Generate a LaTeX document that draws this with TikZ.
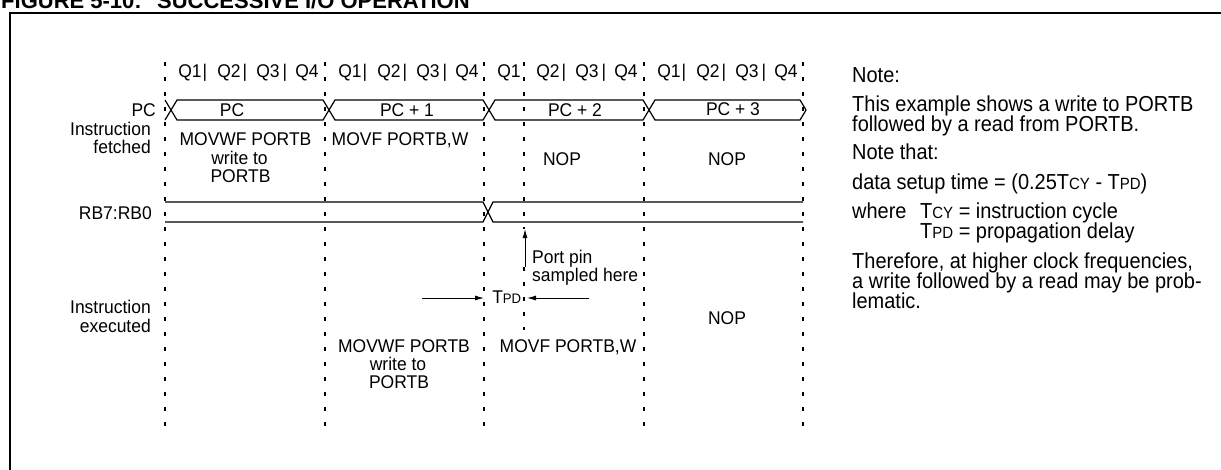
\documentclass[tikz,border=0pt]{standalone}
\usepackage{fontspec}
\usepackage{graphicx}
\setmainfont{Liberation Sans}
\newfontfamily\dfam[FakeStretch=0.95]{Liberation Sans}
\newfontfamily\nfam[FakeStretch=0.92]{Liberation Sans}
\usetikzlibrary{arrows.meta}
\newcommand{\dfont}{\dfam\fontsize{18.4}{19}\selectfont}
\newcommand{\nfont}{\nfam\fontsize{21.7}{22}\selectfont}
\newcommand{\tfont}{\fontsize{22}{23}\selectfont\bfseries}
\newcommand{\Tcy}{T\scalebox{0.75}{CY}}
\newcommand{\Tpd}{T\scalebox{0.75}{PD}}
\tikzset{
  dline/.style={line width=1.2pt, dash pattern=on 4pt off 11pt},
  bus/.style={line width=1.2pt},
  dtxt/.style={font=\dfont, inner sep=0pt, anchor=base},
  ltxt/.style={font=\dfont, inner sep=0pt, anchor=base east},
  ntxt/.style={font=\nfont, inner sep=0pt, anchor=base west},
  arr/.style={-{Latex[length=9pt,width=5pt]}, line width=1pt}
}
\begin{document}
\begin{tikzpicture}[x=1pt,y=-1pt]
\useasboundingbox (0,0) rectangle (1221,469);
% title and frame
\node[font=\tfont, inner sep=0pt, anchor=base west] (title) at (1,8) {FIGURE 5-10:\hspace{0.7em}SUCCESSIVE I/O OPERATION};
\draw[line width=2.5pt] (10,13) rectangle (1240,490);
% dashed cycle lines
\foreach \x in {165,325,484,644,803}{
  \draw[dline] (\x,62) -- (\x,427);
}
\draw[dline] (524,62) -- (524,229);
\draw[dline] (524,267) -- (524,330);
% Q labels
\foreach \b [count=\i] in {165,325,484,644}{
  \foreach \k in {1,2,3,4}{
    \node[dtxt] (q\i\k) at ({\b+25+39*(\k-1)},77) {Q\k};
  }
}
\foreach \x [count=\j] in {205,245,285,365,405,445,564,604,684,724,764}{
  \node[dtxt] (bar\j) at (\x,77) {|};
}
% PC bus
\draw[bus, line join=miter] (165,100) -- (177,120) -- (323,120) -- (335,100) -- (483,100) -- (495,120) -- (643,120) -- (655,100) -- (800,100) -- (806,110);
\draw[bus, line join=miter] (165,120) -- (177,100) -- (323,100) -- (335,120) -- (483,120) -- (495,100) -- (643,100) -- (655,120) -- (800,120) -- (806,110);
\node[dtxt] (pc0) at (232,116.5) {PC};
\node[dtxt] (pc1) at (407,116.5) {PC + 1};
\node[dtxt] (pc2) at (575,116.5) {PC + 2};
\node[dtxt] (pc3) at (733,115.5) {PC + 3};
% RB bus
\draw[bus] (165,202) -- (483,202) -- (493,222) -- (803,222);
\draw[bus] (165,222) -- (483,222) -- (493,202) -- (803,202);
% left labels
\node[ltxt] (lpc) at (156,116.5) {PC};
\node[ltxt] (lif1) at (151,135) {Instruction};
\node[ltxt] (lif2) at (151,153.5) {fetched};
\node[ltxt] (lrb) at (152,219.3) {RB7:RB0};
\node[ltxt] (lie1) at (151,313.3) {Instruction};
\node[ltxt] (lie2) at (151,332) {executed};
% fetched instructions
\node[dtxt] (f1a) at (245.5,145) {MOVWF PORTB};
\node[dtxt] (f1b) at (239.5,164) {write to};
\node[dtxt] (f1c) at (240.5,182) {PORTB};
\node[dtxt] (f2) at (400,145) {MOVF PORTB,W};
\node[dtxt] (f3) at (562,165.5) {NOP};
\node[dtxt] (f4) at (727,165.5) {NOP};
% executed instructions
\node[dtxt] (e2a) at (404,352) {MOVWF PORTB};
\node[dtxt] (e2b) at (398,370.7) {write to};
\node[dtxt] (e2c) at (399,388.5) {PORTB};
\node[dtxt] (e3) at (568,352) {MOVF PORTB,W};
\node[dtxt] (e4) at (727,324) {NOP};
% port pin sampled
\coordinate (pp0) at (525,267);
\coordinate (pp1) at (525,229);
\draw[arr] (pp0) -- (pp1);
\node[dtxt, anchor=base west] (pp2) at (532,263) {Port pin};
\node[dtxt, anchor=base west] (pp3) at (532,281.7) {sampled here};
% TPD
\node[dtxt] (tpd) at (506.7,303) {\Tpd};
\coordinate (ta0) at (422,298);
\coordinate (ta1) at (484,298);
\coordinate (tb0) at (589,298);
\coordinate (tb1) at (527,298);
\draw[arr] (ta0) -- (ta1);
\draw[arr] (tb0) -- (tb1);
% notes
\node[ntxt] (n1) at (852,82) {Note:};
\node[ntxt] (n2) at (852,111) {This example shows a write to PORTB};
\node[ntxt] (n3) at (852,131) {followed by a read from PORTB.};
\node[ntxt] (n4) at (852,159) {Note that:};
\node[ntxt] (n5) at (852,189) {data setup time = (0.25\Tcy\ - \Tpd)};
\node[ntxt] (n6) at (852,218) {where};
\node[ntxt] (n7) at (920,218) {\Tcy\ = instruction cycle};
\node[ntxt] (n8) at (920,238) {\Tpd\ = propagation delay};
\node[ntxt] (n9) at (852,268) {Therefore, at higher clock frequencies,};
\node[ntxt] (n10) at (852,288) {a write followed by a read may be prob-};
\node[ntxt] (n11) at (852,308) {lematic.};
\end{tikzpicture}
\end{document}
